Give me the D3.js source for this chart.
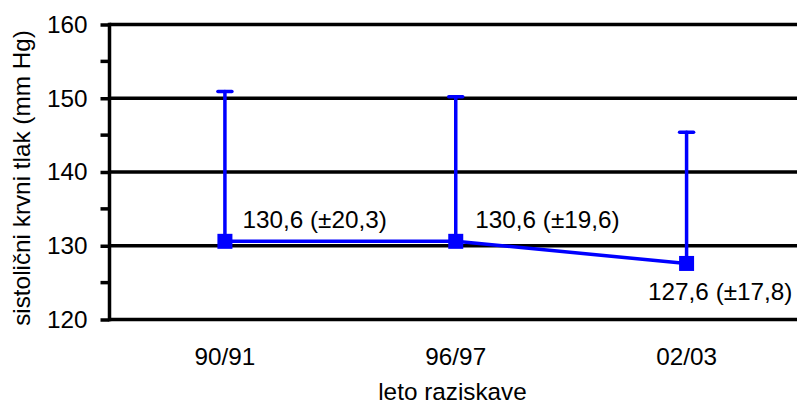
<!DOCTYPE html>
<html>
<head>
<meta charset="utf-8">
<script src="https://cdn.jsdelivr.net/npm/d3@7"></script>
<style>
  html, body { margin: 0; padding: 0; background: #fff; }
  svg { display: block; font-family: "Liberation Sans", Arial, sans-serif; }
</style>
</head>
<body>
<svg id="chart" width="797" height="405"></svg>
<script>
// Survey years and systolic blood pressure (mean and SD, mm Hg)
const categories = ["90/91", "96/97", "02/03"];
const means = [130.6, 130.6, 127.6];
const sds = [20.3, 19.6, 17.8];
const valueLabels = ["130,6 (±20,3)", "130,6 (±19,6)", "127,6 (±17,8)"];
const yTicks = [120, 130, 140, 150, 160];
const yMinorTicks = [125, 135, 145, 155];
const yTitle = "sistolični krvni tlak (mm Hg)";
const xTitle = "leto raziskave";

const svg = d3.select("#chart");
const blue = "#0000ff";
const fontSize = 24.3;

const plot = { left: 109.5, right: 802, top: 24.5, bottom: 319.5 };

const x = d3.scalePoint()
  .domain(categories)
  .range([plot.left, plot.right])
  .padding(0.5);

const y = d3.scaleLinear()
  .domain([120, 160])
  .range([plot.bottom, plot.top]);

// horizontal gridlines at each major value
svg.append("g")
  .selectAll("line")
  .data(yTicks)
  .join("line")
  .attr("x1", plot.left)
  .attr("x2", 797)
  .attr("y1", d => y(d))
  .attr("y2", d => y(d))
  .attr("stroke", "#000")
  .attr("stroke-width", 3.5);

// left axis with major and minor tick marks
const yAxis = svg.append("g")
  .attr("transform", `translate(${plot.left},0)`)
  .call(d3.axisLeft(y).tickValues(yTicks).tickSize(9).tickPadding(13).tickFormat(d3.format("d")));
yAxis.select(".domain").attr("stroke", "#000").attr("stroke-width", 3.5)
  .attr("d", `M0,${plot.top - 1.75}V${plot.bottom + 1.75}`);
yAxis.selectAll(".tick line").attr("stroke", "#000").attr("stroke-width", 3.5);
yAxis.selectAll(".tick text")
  .attr("font-size", fontSize)
  .attr("font-family", "Liberation Sans, Arial, sans-serif")
  .attr("fill", "#000");

svg.append("g")
  .selectAll("line")
  .data(yMinorTicks)
  .join("line")
  .attr("x1", plot.left - 9)
  .attr("x2", plot.left)
  .attr("y1", d => y(d))
  .attr("y2", d => y(d))
  .attr("stroke", "#000")
  .attr("stroke-width", 3.5);

// category labels below the plot
svg.append("g")
  .selectAll("text")
  .data(categories)
  .join("text")
  .attr("x", d => x(d))
  .attr("y", 365)
  .attr("text-anchor", "middle")
  .attr("font-size", fontSize)
  .text(d => d);

// axis titles
svg.append("text")
  .attr("x", 452.5)
  .attr("y", 400)
  .attr("text-anchor", "middle")
  .attr("font-size", fontSize)
  .text(xTitle);

svg.append("text")
  .attr("transform", `translate(30,${(plot.top + plot.bottom) / 2 + 6}) rotate(-90)`)
  .attr("text-anchor", "middle")
  .attr("font-size", fontSize)
  .text(yTitle);

const data = categories.map((c, i) => ({ c, m: means[i], sd: sds[i], label: valueLabels[i] }));

// upper error bars (mean + SD)
const err = svg.append("g").attr("stroke", blue).attr("stroke-width", 3.5).attr("stroke-linecap", "round");
err.selectAll("line.stem")
  .data(data)
  .join("line")
  .attr("class", "stem")
  .attr("x1", d => x(d.c))
  .attr("x2", d => x(d.c))
  .attr("y1", d => y(d.m))
  .attr("y2", d => y(d.m + d.sd));
err.selectAll("line.cap")
  .data(data)
  .join("line")
  .attr("class", "cap")
  .attr("x1", d => x(d.c) - 7)
  .attr("x2", d => x(d.c) + 7)
  .attr("y1", d => y(d.m + d.sd))
  .attr("y2", d => y(d.m + d.sd));

// mean line
svg.append("path")
  .datum(data)
  .attr("fill", "none")
  .attr("stroke", blue)
  .attr("stroke-width", 3.5)
  .attr("d", d3.line().x(d => x(d.c)).y(d => y(d.m)));

// square markers
const ms = 15;
svg.append("g")
  .selectAll("rect")
  .data(data)
  .join("rect")
  .attr("x", d => x(d.c) - ms / 2)
  .attr("y", d => y(d.m) - ms / 2)
  .attr("width", ms)
  .attr("height", ms)
  .attr("fill", blue);

// value labels
const labelOffsets = [
  { dx: 17.5, dy: -13, anchor: "start" },
  { dx: 19.5, dy: -13, anchor: "start" },
  { dx: -38.5, dy: 37, anchor: "start" }
];
svg.append("g")
  .selectAll("text")
  .data(data)
  .join("text")
  .attr("x", (d, i) => x(d.c) + labelOffsets[i].dx)
  .attr("y", (d, i) => y(d.m) + labelOffsets[i].dy)
  .attr("text-anchor", (d, i) => labelOffsets[i].anchor)
  .attr("font-size", fontSize)
  .attr("fill", "#000")
  .text(d => d.label);
</script>
</body>
</html>
